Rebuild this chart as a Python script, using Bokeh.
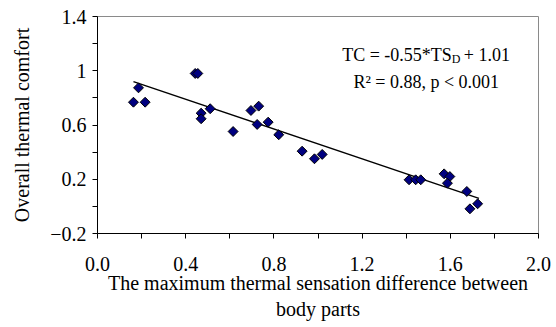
from bokeh.plotting import figure
from bokeh.models import Range1d, FixedTicker, Label, ColumnDataSource, NumeralTickFormatter
from bokeh.embed import file_html
from bokeh.resources import INLINE
import numpy as np

# Data
ts_diff = [0.163, 0.186, 0.216, 0.443, 0.455, 0.470, 0.470, 0.511, 0.615,
           0.696, 0.731, 0.724, 0.774, 0.822, 0.928, 0.984, 1.019,
           1.413, 1.443, 1.466, 1.572, 1.598, 1.587, 1.675, 1.724, 1.689]
comfort = [0.768, 0.874, 0.768, 0.980, 0.980, 0.687, 0.646, 0.720, 0.552,
           0.707, 0.739, 0.604, 0.621, 0.528, 0.407, 0.351, 0.383,
           0.196, 0.196, 0.196, 0.240, 0.220, 0.171, 0.110, 0.019, -0.018]

slope = -0.55
intercept = 1.01
fit_x = [0.163, 1.73]
fit_y = [slope * v + intercept for v in fit_x]

x_major = [0.0, 0.4, 0.8, 1.2, 1.6, 2.0]
x_minor = [0.2, 0.6, 1.0, 1.4, 1.8]
y_major = [-0.2, 0.2, 0.6, 1.0, 1.4]
y_minor = [0.0, 0.4, 0.8, 1.2]

FONT = "'Liberation Serif', 'Times New Roman', serif"

p = figure(width=556, height=327, output_backend="svg", toolbar_location=None,
           x_range=Range1d(0, 2.0), y_range=Range1d(-0.2, 1.4),
           min_border_left=97, min_border_right=18, min_border_top=16,
           min_border_bottom=94)
p.background_fill_color = "white"
p.border_fill_color = "white"
p.outline_line_color = "#8a8a8a"
p.xgrid.visible = False
p.ygrid.visible = False

src = ColumnDataSource(dict(x=ts_diff, y=comfort))
p.line(fit_x, fit_y, line_color="black", line_width=1.4)
p.scatter("x", "y", source=src, marker="square", size=7, angle=np.pi / 4,
          fill_color="#000080", line_color="black", line_width=1)

for ax in (p.xaxis[0], p.yaxis[0]):
    ax.axis_line_color = "black"
    ax.major_tick_line_color = "black"
    ax.minor_tick_line_color = "black"
    ax.major_tick_in = 0
    ax.major_tick_out = 5
    ax.minor_tick_in = 0
    ax.minor_tick_out = 5
    ax.major_label_text_font = FONT
    ax.major_label_text_font_size = "20px"
    ax.major_label_text_color = "black"
    ax.axis_label_text_font = FONT
    ax.axis_label_text_font_size = "20px"
    ax.axis_label_text_font_style = "normal"
    ax.axis_label_text_color = "black"

p.xaxis.ticker = FixedTicker(ticks=x_major, minor_ticks=x_minor)
p.xaxis.formatter = NumeralTickFormatter(format="0.0")
p.yaxis.ticker = FixedTicker(ticks=y_major, minor_ticks=y_minor)
p.yaxis.major_label_overrides = {1.0: "1"}
p.xaxis.axis_label = "The maximum thermal sensation difference between\nbody parts"
p.yaxis.axis_label = "Overall thermal comfort"
p.xaxis.major_label_standoff = 18
p.yaxis.major_label_standoff = 6
p.xaxis.axis_label_standoff = -2
p.yaxis.axis_label_standoff = 14

# Regression annotation
p.add_layout(Label(x=1.607, y=1.1127, text="TC = -0.55*TS", text_align="right",
                   text_baseline="alphabetic", text_font=FONT,
                   text_font_size="18px", text_color="black"))
p.add_layout(Label(x=1.607, y=1.083, text="D", text_align="left",
                   text_baseline="alphabetic", text_font=FONT,
                   text_font_size="12px", text_color="black"))
p.add_layout(Label(x=1.661, y=1.1127, text="+ 1.01", text_align="left",
                   text_baseline="alphabetic", text_font=FONT,
                   text_font_size="18px", text_color="black"))
p.add_layout(Label(x=1.491, y=0.9136, text="R\u00b2 = 0.88, p < 0.001",
                   text_align="center", text_baseline="alphabetic",
                   text_font=FONT, text_font_size="18px", text_color="black"))

open("out.html", "w").write(file_html(p, INLINE))
